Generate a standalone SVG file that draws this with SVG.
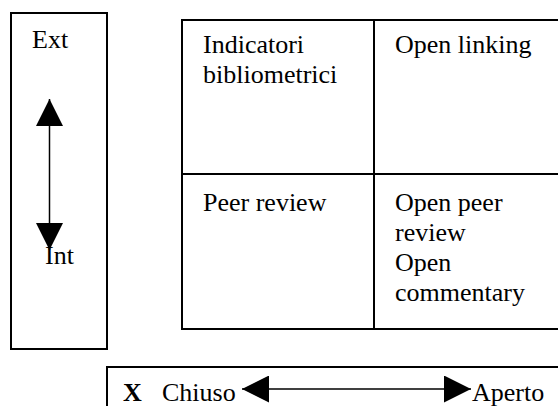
<svg xmlns="http://www.w3.org/2000/svg" width="558" height="406" viewBox="0 0 558 406">
<style>
.box{fill:#fff;stroke:#000;stroke-width:2}
.ln{stroke:#000;stroke-width:2;fill:none}
text{font-family:'Liberation Serif','Times New Roman',Times,serif;font-size:26px;fill:#000}
.b{font-weight:bold}
.conn{stroke:#000;stroke-width:1.5;fill:none}
</style>
<defs>
<marker id="ah" viewBox="0 0 27 27" refX="27" refY="13.5" markerWidth="27" markerHeight="27" markerUnits="userSpaceOnUse" orient="auto-start-reverse">
<path d="M0,0 L27,13.5 L0,27 z" fill="#000"/>
</marker>
</defs>
<rect width="558" height="406" fill="#fff"/>
<g id="left-box">
<rect class="box" x="11" y="13" width="96" height="336"/>
<text x="32" y="48">Ext</text>
</g>
<g id="table">
<rect class="box" x="182" y="20" width="400" height="309"/>
<line class="ln" x1="182" y1="174" x2="582" y2="174"/>
<line class="ln" x1="374" y1="20" x2="374" y2="329"/>
</g>
<g id="cell-indicatori">
<text x="203" y="53">Indicatori</text>
<text x="203" y="83">bibliometrici</text>
</g>
<g id="cell-open-linking">
<text x="395" y="53">Open linking</text>
</g>
<g id="cell-peer-review">
<text x="203" y="211">Peer review</text>
</g>
<g id="cell-open-peer-review">
<text x="395" y="211">Open peer</text>
<text x="395" y="241">review</text>
<text x="395" y="271">Open</text>
<text x="395" y="301">commentary</text>
</g>
<g id="bottom-box">
<rect class="box" x="107" y="367" width="480" height="60"/>
<text class="b" x="123" y="401">X</text>
<text x="162" y="401">Chiuso</text>
<text x="472" y="401">Aperto</text>
</g>
<g id="connectors">
<line class="conn" x1="49.5" y1="99" x2="49.5" y2="250" marker-start="url(#ah)" marker-end="url(#ah)"/>
<line class="conn" x1="242" y1="389" x2="471" y2="389" marker-start="url(#ah)" marker-end="url(#ah)"/>
</g>
<g id="int-label">
<text x="45" y="264">Int</text>
</g>
</svg>
